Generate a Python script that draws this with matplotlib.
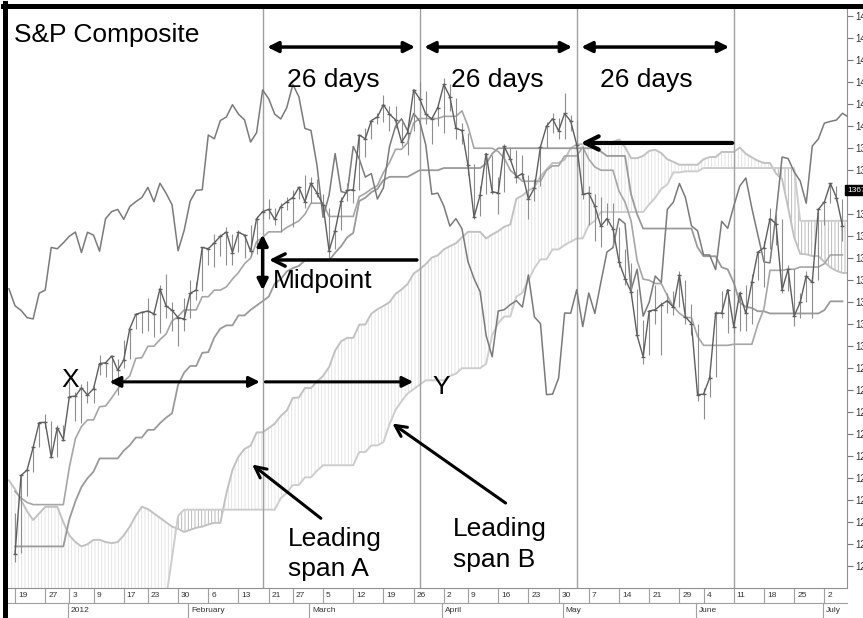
import numpy as np
import matplotlib.pyplot as plt
from matplotlib.lines import Line2D

plt.rcParams['font.family'] = ['Liberation Sans', 'DejaVu Sans']
plt.rcParams['hatch.linewidth'] = 0.6

# trading day index: 0 = 19 Dec 2011 ... 137 = 6 Jul 2012 (last day in view);
# closes go on to 13 Aug 2012 because the lagging span is drawn 25 days back
close = [1205.4, 1241.3, 1243.7, 1254.0, 1265.3, 1265.4, 1249.6, 1263.0, 1257.6, 1277.1,
         1277.3, 1281.1, 1277.8, 1280.7, 1292.1, 1292.5, 1295.5, 1289.1, 1293.7, 1308.0,
         1314.5, 1315.4, 1316.0, 1314.7, 1326.1, 1318.4, 1316.3, 1313.0, 1312.4, 1324.1,
         1325.5, 1344.9, 1344.3, 1347.0, 1350.0, 1351.9, 1342.6, 1351.8, 1350.5, 1343.2,
         1358.0, 1361.2, 1362.2, 1357.7, 1363.5, 1365.7, 1367.6, 1372.2, 1365.7, 1374.1,
         1369.6, 1364.3, 1343.4, 1352.6, 1365.9, 1370.9, 1371.1, 1396.0, 1394.3, 1402.6,
         1404.2, 1409.8, 1405.5, 1402.9, 1392.8, 1397.1, 1416.5, 1412.5, 1405.5, 1403.3,
         1408.5, 1419.0, 1413.4, 1399.0, 1398.1, 1382.2, 1358.6, 1368.7, 1387.6, 1370.3,
         1369.6, 1390.8, 1385.1, 1376.9, 1378.5, 1366.9, 1372.0, 1390.7, 1400.0, 1403.4,
         1397.9, 1405.8, 1402.3, 1391.6, 1369.1, 1369.6, 1363.7, 1354.6, 1358.0, 1353.4,
         1338.4, 1330.7, 1324.8, 1304.9, 1295.2, 1316.0, 1316.6, 1318.9, 1320.7, 1317.8,
         1332.4, 1313.3, 1310.3, 1278.0, 1278.2, 1285.5, 1315.1, 1315.0, 1325.7, 1308.9,
         1324.2, 1314.9, 1329.1, 1342.8, 1344.8, 1358.0, 1355.7, 1325.5, 1335.0, 1313.7,
         1320.0, 1331.9, 1329.0, 1362.2, 1365.5, 1374.0, 1367.6, 1354.7, 1352.5, 1341.5,
         1341.5, 1334.8, 1356.8, 1353.6, 1363.7, 1372.8, 1376.5, 1362.7, 1350.5, 1338.3,
         1337.9, 1360.0, 1386.0, 1385.3, 1379.3, 1375.1, 1365.0, 1391.0, 1394.2, 1401.4,
         1402.2, 1402.8, 1405.9, 1404.1]
high = [1224, 1242, 1245, 1255, 1265.4, 1269, 1266, 1264, 1264, 1284,
        1279, 1283, 1284, 1282, 1296, 1293, 1296, 1294, 1303, 1308,
        1315, 1315.5, 1322, 1315, 1328, 1333, 1320, 1314, 1322, 1330,
        1329, 1345, 1345, 1351, 1351, 1354, 1351, 1353, 1351, 1355,
        1359, 1363, 1367, 1363, 1365, 1368, 1371, 1373, 1378, 1377,
        1376, 1369, 1363, 1354, 1368, 1374, 1372, 1396, 1399, 1403,
        1405.9, 1414, 1409, 1409, 1402, 1399, 1417, 1420, 1416, 1404,
        1410, 1422, 1419, 1413, 1401.6, 1397, 1383, 1373, 1388, 1387,
        1377, 1392, 1390, 1389, 1387, 1378, 1376, 1391, 1402, 1406,
        1403.6, 1415, 1405, 1403, 1391, 1373, 1369, 1368, 1365, 1365,
        1354, 1344, 1338, 1326, 1312, 1316, 1328, 1320, 1324, 1325,
        1334, 1330, 1319, 1310, 1281, 1287, 1316, 1325, 1326, 1335,
        1325, 1328, 1333, 1343, 1348, 1363, 1361, 1358, 1337, 1335,
        1324, 1334, 1331.5, 1363, 1366, 1374, 1373, 1367]
low = [1202, 1206, 1232, 1243, 1254, 1263, 1249, 1249.6, 1257, 1277,
       1266, 1265, 1274, 1274, 1287, 1286, 1283, 1278, 1290, 1294,
       1308, 1306, 1307, 1304, 1306, 1313, 1307, 1300, 1307, 1313,
       1321, 1325, 1337, 1336, 1341, 1337, 1337, 1343, 1340, 1341,
       1342, 1358, 1358, 1355, 1352, 1362, 1354, 1367, 1363, 1365,
       1368, 1359, 1340, 1344, 1353, 1366, 1365, 1371, 1386, 1394,
       1401, 1402, 1398, 1399, 1391, 1387, 1398, 1412, 1401, 1392,
       1400, 1397, 1407, 1394, 1392, 1378, 1358, 1359, 1369, 1369,
       1360, 1370, 1384, 1374, 1376, 1358, 1366, 1373, 1390, 1397,
       1394, 1394, 1398, 1382, 1367, 1355, 1348, 1345, 1355, 1345,
       1336, 1328, 1323, 1305, 1292, 1296, 1310, 1296, 1315, 1314,
       1318, 1310, 1305, 1275, 1266.7, 1277, 1286, 1313, 1306, 1306,
       1307, 1307, 1310, 1330, 1327, 1344, 1346, 1324, 1325, 1309,
       1313, 1320, 1313, 1330, 1355, 1365, 1366, 1348]

# conversion line and base line, day 0..137
tenkan = [1234, 1231, 1229, 1228, 1228, 1228, 1228, 1228, 1228, 1245,
          1258, 1263.5, 1266.5, 1266.5, 1272.5, 1272.8, 1276.5, 1280.5, 1284, 1286.5,
          1294.5, 1294.8, 1300, 1300, 1303, 1305.5, 1311.5, 1313.5, 1316.5, 1316.5,
          1316.5, 1322.5, 1322.5, 1325.5, 1325.5, 1327, 1330.5, 1333.5, 1337.5, 1340,
          1347.5, 1349.5, 1352, 1352, 1352, 1354, 1355.5, 1357, 1360, 1365,
          1365, 1365, 1359, 1359, 1359, 1359, 1359, 1368, 1369.5, 1371.5,
          1373, 1379, 1383.5, 1389.5, 1389.5, 1392.5, 1401.5, 1403.5, 1403.5, 1403.5,
          1403.5, 1404.5, 1404.5, 1404.5, 1407, 1400, 1390, 1390, 1390, 1390,
          1388.5, 1385.5, 1380, 1377.5, 1375, 1375, 1375, 1375, 1380, 1382,
          1382, 1386.5, 1386.5, 1386.5, 1390.5, 1385, 1381.5, 1380, 1380, 1380,
          1370.5, 1365.5, 1357, 1339, 1330.5, 1330, 1328.5, 1328.5, 1323, 1318,
          1315, 1313, 1313, 1304.5, 1300.4, 1300.4, 1300.4, 1300.4, 1300.4, 1300.9,
          1300.9, 1300.9, 1300.9, 1310, 1317, 1334.5, 1334.5, 1334.5, 1335, 1335,
          1336, 1336, 1336, 1336, 1337.5, 1341.5, 1341.5, 1341.5]
kijun = [1209, 1209, 1209, 1209, 1209, 1209, 1209, 1209, 1209, 1221.4,
         1229.5, 1236, 1240, 1243, 1249, 1249, 1249, 1249, 1252.5, 1255,
         1258.5, 1258.5, 1262, 1262, 1265, 1267.5, 1269.5, 1282.5, 1288, 1291,
         1291, 1297, 1297.3, 1304, 1308, 1309.5, 1309.5, 1314, 1314, 1316.5,
         1318.5, 1320.5, 1322.5, 1328.5, 1330.5, 1334, 1335.5, 1336.5, 1339, 1339,
         1339, 1339, 1339, 1342.5, 1345.5, 1349.5, 1351.5, 1366, 1367.5, 1370,
         1371.5, 1375.5, 1377, 1377, 1377, 1377, 1378.5, 1380, 1380, 1380,
         1380, 1381, 1381, 1381, 1381, 1381, 1381, 1381, 1383, 1387.5,
         1390, 1390, 1390, 1390, 1390, 1390, 1390, 1390, 1390, 1390,
         1390, 1390, 1390, 1390, 1390, 1390, 1390, 1388.5, 1386.5, 1386.5,
         1386.5, 1386.5, 1369, 1360, 1353.5, 1353.5, 1353.5, 1353.5, 1353.5, 1353.5,
         1353.5, 1353.5, 1353.5, 1345, 1340.9, 1340.9, 1340.9, 1335.9, 1334.9, 1328.9,
         1319.9, 1317.9, 1317.4, 1315.9, 1315.9, 1314.9, 1314.9, 1314.9, 1314.9, 1314.9,
         1314.9, 1314.9, 1314.9, 1314.9, 1316.4, 1320.4, 1320.4, 1320.4]

# leading spans as drawn, day -1 .. 138
span_a = [1239, 1235, 1230, 1225, 1221, 1224, 1227, 1227, 1227, 1220,
          1214, 1211, 1209, 1210, 1212, 1212, 1211, 1210.5, 1211, 1214,
          1218, 1223, 1227, 1226, 1224, 1222, 1220, 1218, 1217, 1215.6,
          1216.5, 1217.5, 1218, 1219, 1219.7, 1219.7, 1233.2, 1243.8, 1249.8, 1253.3,
          1254.8, 1260.8, 1260.9, 1262.8, 1264.8, 1268.3, 1270.8, 1276.5, 1276.7, 1281,
          1281, 1284, 1286.5, 1290.5, 1298, 1302.3, 1303.8, 1303.8, 1309.8, 1309.9,
          1314.8, 1316.8, 1318.3, 1320, 1323.8, 1325.8, 1328.3, 1333, 1335, 1337.3,
          1340.3, 1341.3, 1344, 1345.5, 1346.8, 1349.5, 1352, 1352, 1352, 1349,
          1350.8, 1352.3, 1354.3, 1355.3, 1367, 1368.5, 1370.8, 1372.3, 1377.3, 1380.3,
          1383.3, 1383.3, 1384.8, 1390, 1391.8, 1391.8, 1391.8, 1391.8, 1392.8, 1392.8,
          1392.8, 1394, 1390.5, 1385.5, 1385.5, 1386.5, 1388.8, 1389.3, 1387.8, 1385,
          1383.8, 1382.5, 1382.5, 1382.5, 1382.5, 1385, 1386, 1386, 1388.3, 1388.3,
          1388.3, 1390.3, 1387.5, 1385.8, 1384.3, 1383.3, 1383.3, 1378.5, 1376, 1363,
          1349.5, 1342, 1341.8, 1341, 1341, 1338.3, 1335.8, 1334.3, 1333.3, 1333.3]
span_b = [1183.75] * 26 + [1185, 1204, 1223] + [1225.7] * 16 + [
          1230.9, 1233.4, 1236.9, 1236.9, 1240.4, 1240.4, 1243.4,
          1245.9, 1245.9, 1245.9, 1245.9, 1245.9, 1245.9, 1251.9, 1251.9, 1254.9, 1254.9,
          1256.4, 1264.5, 1271, 1275, 1278.5, 1280.5, 1282.5, 1284.5, 1284.5, 1284.5,
          1284.5, 1286.5, 1287.5, 1290, 1290, 1290, 1290, 1292, 1305, 1310.5,
          1313.5, 1313.5, 1322.5, 1324.3, 1330, 1335.5, 1339.5, 1339.5, 1344, 1344,
          1346, 1347.5, 1349, 1349, 1355, 1357, 1361, 1361, 1361, 1361,
          1361, 1361, 1361, 1361, 1364.5, 1367.5, 1371.5, 1373.5, 1379, 1379,
          1379.5, 1379.5, 1379.5] + [1381] * 16 + [1357] * 9
lag = 25

tick_days = [0, 5, 9, 13, 18, 22, 27, 32, 37, 42, 46, 51, 56, 61, 66,
             71, 75, 80, 85, 90, 95, 100, 105, 110, 114, 119, 124, 129, 134]
tick_labels = ['19', '27', '3', '9', '17', '23', '30', '6', '13', '21', '27', '5', '12', '19', '26',
               '2', '9', '16', '23', '30', '7', '14', '21', '29', '4', '11', '18', '25', '2']
month_days = [9, 29, 49, 71, 91, 113, 134]
month_labels = ['2012', 'February', 'March', 'April', 'May', 'June', 'July']
cycle_days = [41, 67, 93, 119]
price_ticks = list(range(1200, 1451, 10))
box_price = 1371.0

close = np.array(close)
days = np.arange(len(close))
bar_days = np.arange(len(high))
line_days = np.arange(len(tenkan))
span_days = np.arange(-1, -1 + len(span_a))
a = np.array(span_a)
b = np.array(span_b)

fig = plt.figure(figsize=(8.63, 6.18), dpi=100)
ax = fig.add_axes([8 / 863, 30 / 618, 839 / 863, 581 / 618])

# cloud
ax.fill_between(span_days, a, b, where=a >= b, interpolate=True, facecolor='none',
                edgecolor='#e0e0e0', hatch='|||||', lw=0)
ax.fill_between(span_days, a, b, where=a < b, interpolate=True, facecolor='none',
                edgecolor='#b0b0b0', hatch='|||||', lw=0)
ax.plot(span_days, span_a, color='#c2c2c2', lw=1.4)
ax.plot(span_days, span_b, color='#cdcdcd', lw=1.4)

for d in cycle_days:
    ax.axvline(d, color='#a0a0a0', lw=1.0)

ax.plot(line_days, kijun, color='#9a9a9a', lw=1.3)
ax.plot(line_days, tenkan, color='#a6a6a6', lw=1.2)
ax.plot(days[lag - 1:] - lag, close[lag - 1:], color='#7a7a7a', lw=1.1)

ax.vlines(bar_days, low, high, color='#8e8e8e', lw=0.8)
ax.plot(bar_days, close[:len(high)], color='#5e5e5e', lw=1.0)
ax.plot(bar_days, close[:len(high)], ls='none', marker='_', ms=3, color='#606060')

ax.set_xlim(-1.16, 137.75)
ax.set_ylim(1190.1, 1454.2)

# annotations
txt = dict(fontsize=19, color='black')
ax.text(-0.2, 1441.5, 'S&P Composite', ha='left', va='center', **txt)
for x0, x1, xt in [(41, 67, 52.7), (67, 93, 79.8), (93, 119, 104.5)]:
    ax.annotate('', xy=(x0 + 0.3, 1436), xytext=(x1 - 0.3, 1436),
                arrowprops=dict(arrowstyle='<|-|>', color='black', lw=2.5, mutation_scale=16))
    ax.text(xt, 1421, '26 days', ha='center', va='center', **txt)

ax.annotate('', xy=(41, 1352.0), xytext=(41, 1324.2),
            arrowprops=dict(arrowstyle='<|-|>', color='black', lw=2.5, mutation_scale=16))
ax.annotate('', xy=(41.6, 1339.2), xytext=(67, 1339.2),
            arrowprops=dict(arrowstyle='->', color='black', lw=2.5, mutation_scale=22))
ax.text(42.7, 1329.7, 'Midpoint', ha='left', va='center', **txt)

ax.text(9.1, 1284.7, 'X', ha='center', va='center', **txt)
ax.text(70.5, 1281.5, 'Y', ha='center', va='center', **txt)
ax.annotate('', xy=(15.2, 1283.8), xytext=(41, 1283.8),
            arrowprops=dict(arrowstyle='<|-|>', color='black', lw=2.2, mutation_scale=16))
ax.annotate('', xy=(66.4, 1283.8), xytext=(41, 1283.8),
            arrowprops=dict(arrowstyle='-|>', color='black', lw=2.2, mutation_scale=16))

ax.text(45.2, 1205.5, 'Leading\nspan A', ha='left', va='center', linespacing=1.35, **txt)
ax.annotate('', xy=(38.9, 1247), xytext=(51.0, 1221),
            arrowprops=dict(arrowstyle='->', color='black', lw=2.2, mutation_scale=20))
ax.text(72.5, 1209.9, 'Leading\nspan B', ha='left', va='center', linespacing=1.35, **txt)
ax.annotate('', xy=(62.1, 1265.6), xytext=(81.6, 1228),
            arrowprops=dict(arrowstyle='->', color='black', lw=2.2, mutation_scale=20))

ax.annotate('', xy=(93.2, 1392.4), xytext=(119.2, 1392.4),
            arrowprops=dict(arrowstyle='->', color='black', lw=3, mutation_scale=24))

# right price axis (labels run off the cropped edge as in the original)
ax.yaxis.tick_right()
ax.set_yticks(price_ticks)
ax.set_yticklabels(['' if abs(v - box_price) < 5 else str(v) for v in price_ticks])
ax.tick_params(axis='y', labelsize=7, length=4, color='#777777', labelcolor='#333333', pad=2)
ax.text(1.0, box_price, f'{close[136]:.2f}', transform=ax.get_yaxis_transform(), ha='left',
        va='center', color='white', fontsize=6, zorder=5,
        bbox=dict(facecolor='black', edgecolor='black', pad=1.2))

# date axis
ax.set_xticks([])
for s in ['left', 'top']:
    ax.spines[s].set_visible(False)
for s in ['right', 'bottom']:
    ax.spines[s].set_color('#909090')
trans = ax.get_xaxis_transform()
row = 15 / 581
for d, lab in zip(tick_days, tick_labels):
    ax.plot([d, d], [0, -row], transform=trans, clip_on=False, color='#a0a0a0', lw=0.8)
    ax.text(d + 0.5, -row / 2, lab, transform=trans, fontsize=6, color='#333333',
            ha='left', va='center')
ax.plot([-1.16, 137.75], [-row, -row], transform=trans, clip_on=False, color='#a0a0a0', lw=0.8)
for d, lab in zip(month_days, month_labels):
    ax.plot([d - 0.3, d - 0.3], [-row, -2 * row], transform=trans, clip_on=False,
            color='#a0a0a0', lw=0.8)
    ax.text(d + 0.2, -1.5 * row, lab, transform=trans, fontsize=6, color='#333333',
            ha='left', va='center')

# black frame of the original picture
fig.add_artist(Line2D([4.5 / 863, 4.5 / 863], [0, 1 - 3 / 618], color='black', lw=3.6))
fig.add_artist(Line2D([2.5 / 863, 1], [1 - 5.5 / 618, 1 - 5.5 / 618], color='black', lw=3.6))

fig.savefig('out.png', dpi=100)
